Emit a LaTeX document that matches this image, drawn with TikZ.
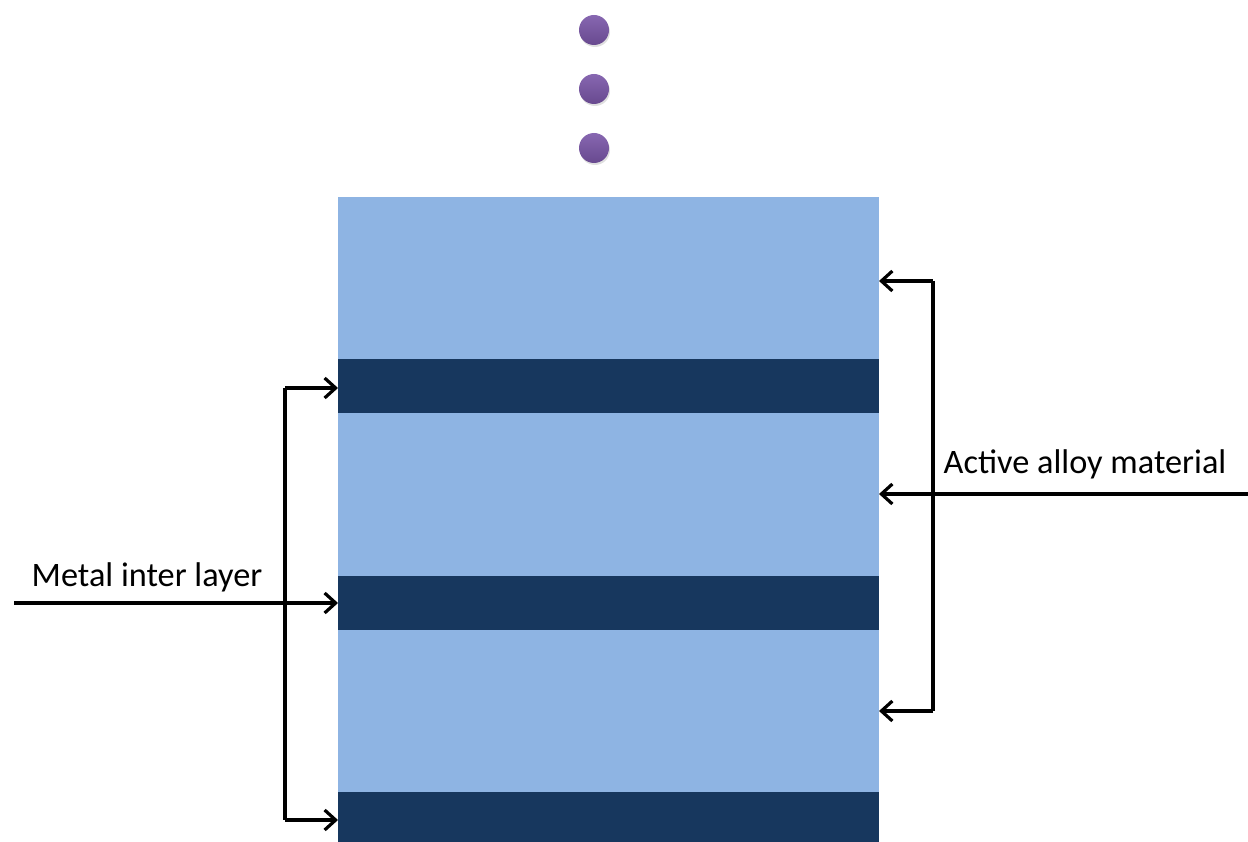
\documentclass[tikz,border=0pt]{standalone}
\usepackage{fontspec}
\setmainfont{Carlito}
\usetikzlibrary{arrows.meta,shadows}
\definecolor{lightlayer}{RGB}{142,180,227}
\definecolor{darklayer}{RGB}{23,55,94}
\definecolor{dotpurple}{RGB}{122,86,168}
\tikzset{
  lightbox/.style={fill=lightlayer,draw=none},
  darkbox/.style={fill=darklayer,draw=none},
  conn/.style={draw=black,line width=3.2pt,-{Straight Barb[length=11pt,width=20pt]}},
  plainline/.style={draw=black,line width=3.2pt},
  atom/.style={circle,minimum size=30pt,inner sep=0pt,draw=none,
    top color=dotpurple!90!white,bottom color=dotpurple!85!black,
    drop shadow={shadow xshift=1pt,shadow yshift=-2pt,opacity=0.25}},
  lbl/.style={font=\fontsize{34.3}{40}\selectfont,anchor=base,inner sep=0pt}
}
\begin{document}
\begin{tikzpicture}[x=1pt,y=-1pt]
\useasboundingbox (0,0) rectangle (1248,842);
% layers
\path[lightbox] (338,197) rectangle (879,359);
\path[darkbox]  (338,359) rectangle (879,413);
\path[lightbox] (338,413) rectangle (879,576);
\path[darkbox]  (338,576) rectangle (879,630);
\path[lightbox] (338,630) rectangle (879,792);
\path[darkbox]  (338,792) rectangle (879,842);
% named anchor points on the stack
\coordinate (m1) at (338,388);
\coordinate (m2) at (338,603);
\coordinate (m3) at (338,820);
\coordinate (a1) at (879,281);
\coordinate (a2) at (879,494);
\coordinate (a3) at (879,711);
\coordinate (lb1) at (285,388);
\coordinate (lb3) at (285,820);
\coordinate (rb1) at (933,281);
\coordinate (rb3) at (933,711);
\coordinate (lstart) at (14,603);
\coordinate (rstart) at (1248,494);
% dots
\node[atom] (d1) at (594,30) {};
\node[atom] (d2) at (594,89) {};
\node[atom] (d3) at (594,148) {};
% left bracket
\path[plainline] (lb1) -- (lb3);
\path[conn] (lb1) -- (m1);
\path[conn] (lb3) -- (m3);
\path[conn] (lstart) -- (m2);
% right bracket
\path[plainline] (rb1) -- (rb3);
\path[conn] (rb1) -- (a1);
\path[conn] (rb3) -- (a3);
\path[conn] (rstart) -- (a2);
% labels
\node[lbl] (metal) at (147,586) {Metal inter layer};
\node[lbl] (active) at (1085,473) {Active alloy material};
\end{tikzpicture}
\end{document}
